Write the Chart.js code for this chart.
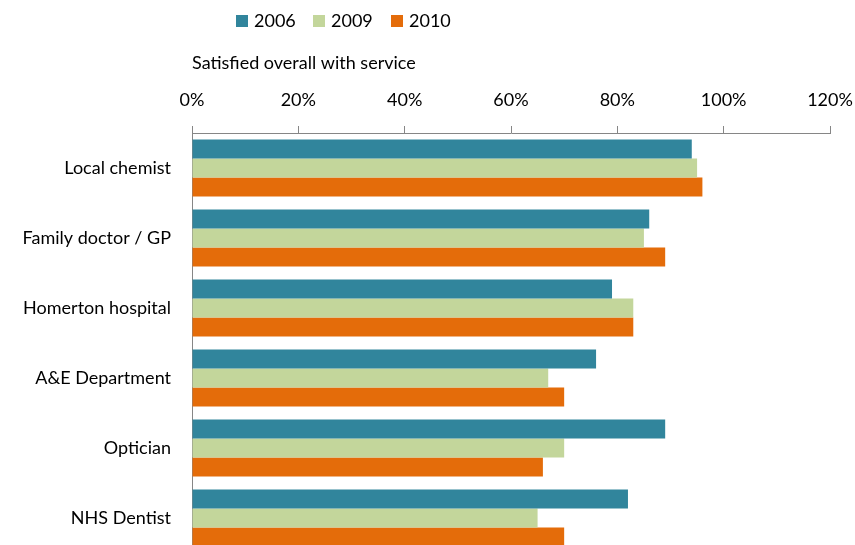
<!DOCTYPE html>
<html lang="en">

<head>
    <meta charset="UTF-8">
    <script src="https://cdn.jsdelivr.net/npm/chart.js@4.4.0/dist/chart.umd.min.js"></script>
    <title>Satisfied overall with service</title>
    <style>
        html, body { margin: 0; padding: 0; overflow: hidden; background: #fff; }
        canvas { display: block; }
    </style>
</head>

<body>
    <canvas id="myChart" width="855" height="560"></canvas>

    <script>
        const categories = ['Local chemist', 'Family doctor / GP', 'Homerton hospital', 'A&E Department', 'Optician', 'NHS Dentist'];
        const years = ['2006', '2009', '2010'];
        const values2006 = [0.94, 0.86, 0.79, 0.76, 0.89, 0.82];
        const values2009 = [0.95, 0.85, 0.83, 0.67, 0.70, 0.65];
        const values2010 = [0.96, 0.89, 0.83, 0.70, 0.66, 0.70];
        const xTicks = [0, 0.2, 0.4, 0.6, 0.8, 1.0, 1.2];

        const colors = ['#31859C', '#C3D69B', '#E46C0A'];
        const axisGrey = '#868686';
        const font = 'Lato';

        // legend drawn by hand so it can sit left of centre like the original
        const topLegend = {
            id: 'topLegend',
            afterDraw(chart) {
                const ctx = chart.ctx;
                const xs = [236, 313, 391];
                ctx.save();
                ctx.font = '18px ' + font;
                ctx.textBaseline = 'middle';
                ctx.textAlign = 'left';
                chart.data.datasets.forEach((ds, i) => {
                    ctx.fillStyle = ds.backgroundColor;
                    ctx.fillRect(xs[i], 15, 12, 12);
                    ctx.fillStyle = '#000';
                    ctx.fillText(ds.label, xs[i] + 18, 21);
                });
                ctx.restore();
            }
        };

        const ctx = document.getElementById('myChart').getContext('2d');
        new Chart(ctx, {
            type: 'bar',
            data: {
                labels: categories,
                datasets: [
                    { label: years[0], data: values2006, backgroundColor: colors[0] },
                    { label: years[1], data: values2009, backgroundColor: colors[1] },
                    { label: years[2], data: values2010, backgroundColor: colors[2] }
                ]
            },
            options: {
                indexAxis: 'y',
                responsive: false,
                animation: false,
                datasets: {
                    bar: { categoryPercentage: 0.815, barPercentage: 1.0 }
                },
                layout: { padding: { top: 0, right: 25, bottom: 7, left: 0 } },
                plugins: {
                    legend: { display: false },
                    tooltip: { enabled: false }
                },
                scales: {
                    x: {
                        position: 'top',
                        min: 0,
                        max: 1.2,
                        afterBuildTicks: (scale) => { scale.ticks = xTicks.map(v => ({ value: v })); },
                        afterFit: (scale) => {
                            scale.height = 133;
                            scale.paddingLeft = 0;
                            scale.paddingRight = 0;
                        },
                        ticks: {
                            color: '#000',
                            font: { family: font, size: 18 },
                            padding: 15,
                            callback: (v) => Math.round(v * 100) + '%'
                        },
                        grid: {
                            display: true,
                            drawOnChartArea: false,
                            drawTicks: true,
                            tickLength: 7,
                            color: axisGrey
                        },
                        border: { display: true, color: axisGrey, width: 1 },
                        title: {
                            display: true,
                            text: 'Satisfied overall with service',
                            align: 'start',
                            color: '#000',
                            font: { family: font, size: 18 },
                            padding: { top: 52, bottom: 0 }
                        }
                    },
                    y: {
                        afterFit: (scale) => {
                            scale.width = 192;
                            scale.paddingTop = 0;
                            scale.paddingBottom = 0;
                        },
                        ticks: {
                            color: '#000',
                            font: { family: font, size: 18 },
                            padding: 21
                        },
                        grid: { display: false, drawTicks: false },
                        border: { display: true, color: axisGrey, width: 1 }
                    }
                }
            },
            plugins: [topLegend]
        });
    </script>

</body>

</html>
